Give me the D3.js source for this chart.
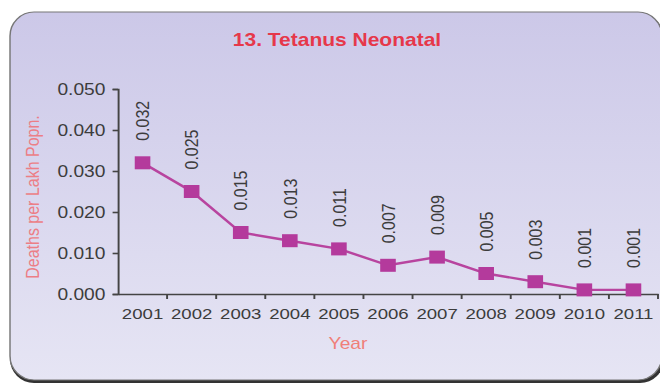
<!DOCTYPE html>
<html><head><meta charset="utf-8">
<script src="https://cdn.jsdelivr.net/npm/d3@7/dist/d3.min.js"></script>
<style>html,body{margin:0;padding:0;background:#fff;}svg{display:block;}</style>
</head><body>
<script>
const years = ["2001","2002","2003","2004","2005","2006","2007","2008","2009","2010","2011"];
const deaths = [0.032,0.025,0.015,0.013,0.011,0.007,0.009,0.005,0.003,0.001,0.001];
const valueLabels = ["0.032","0.025","0.015","0.013","0.011","0.007","0.009","0.005","0.003","0.001","0.001"];
const yTicks = [0,0.01,0.02,0.03,0.04,0.05];
const title = "13. Tetanus Neonatal";
const yTitle = "Deaths per Lakh Popn.";
const xTitle = "Year";

const SX = 1.2; // horizontal stretch of the picture
const W = 660, H = 383;
const svg = d3.select("body").append("svg").attr("width", W).attr("height", H);
const defs = svg.append("defs");
const grad = defs.append("linearGradient").attr("id","bg").attr("x1",0).attr("y1",0).attr("x2",0).attr("y2",1);
grad.append("stop").attr("offset","0%").attr("stop-color","#ccc8e8");
grad.append("stop").attr("offset","100%").attr("stop-color","#e6e5f4");

const g = svg.append("g").attr("transform", `scale(${SX},1)`);
const font = "'Liberation Sans', Arial, sans-serif";

// panel shadow + panel
g.append("rect").attr("x", 10/SX).attr("y", 14).attr("width", 654/SX).attr("height", 369)
  .attr("rx", 24/SX).attr("ry", 24).attr("fill", "#333");
g.append("rect").attr("x", 10/SX).attr("y", 12).attr("width", 652/SX).attr("height", 368)
  .attr("rx", 24/SX).attr("ry", 24).attr("fill", "url(#bg)").attr("stroke", "#777").attr("stroke-width", 1.2);

const x = d3.scaleBand().domain(years).range([118/SX, 658/SX]).padding(0);
const y = d3.scaleLinear().domain([0, 0.05]).range([294, 89]);

// y axis
const yAxis = g.append("g").attr("transform", `translate(${118/SX},0)`)
  .call(d3.axisLeft(y).tickValues(yTicks).tickFormat(d3.format(".3f")).tickSize(4.5).tickPadding(6));
yAxis.selectAll("path,line").attr("stroke", "#444").attr("stroke-width", 1.6);
yAxis.selectAll("text").attr("font-family", font).attr("font-size", 16).attr("fill", "#3c3c3c");

// x axis
const xAxis = g.append("g").attr("transform", `translate(0,294)`)
  .call(d3.axisBottom(x).tickSize(0).tickPadding(14));
xAxis.select("path").attr("stroke", "#444").attr("stroke-width", 1.6);
xAxis.selectAll("text").attr("font-family", font).attr("font-size", 15.5).attr("fill", "#3c3c3c");
xAxis.selectAll(".bt").data(years.slice(1).concat(["end"])).enter().append("line")
  .attr("x1", (d,i) => x(years[i]) + x.bandwidth()).attr("x2", (d,i) => x(years[i]) + x.bandwidth())
  .attr("y1", 0).attr("y2", 5).attr("stroke", "#444").attr("stroke-width", 1.6);

// line
const line = d3.line().x((d,i) => x(years[i]) + x.bandwidth()/2).y(d => y(d));
g.append("path").datum(deaths).attr("d", line).attr("fill", "none")
  .attr("stroke", "#b8449f").attr("stroke-width", 2.4);

// markers
const ms = 13;
g.selectAll(".mk").data(deaths).enter().append("rect")
  .attr("x", (d,i) => x(years[i]) + x.bandwidth()/2 - ms/2)
  .attr("y", d => y(d) - ms/2).attr("width", ms).attr("height", ms)
  .attr("fill", "#b43a9c");

// value labels
g.selectAll(".vl").data(deaths).enter().append("text")
  .attr("transform", (d,i) => `translate(${x(years[i]) + x.bandwidth()/2},${y(d) - 22}) rotate(-90)`)
  .attr("dy", "0.35em").attr("text-anchor", "start")
  .attr("font-family", font).attr("font-size", 16).attr("fill", "#3c3c3c")
  .text((d,i) => valueLabels[i]);

// titles
g.append("text").attr("x", 337/SX).attr("y", 46).attr("text-anchor", "middle")
  .attr("font-family", font).attr("font-weight", "bold").attr("font-size", 17.5).attr("fill", "#e6384a")
  .text(title);
g.append("text").attr("transform", `translate(${32/SX},197) rotate(-90)`)
  .attr("dy", "0.35em").attr("text-anchor", "middle")
  .attr("font-family", font).attr("font-size", 16).attr("fill", "#ec7e86")
  .text(yTitle);
g.append("text").attr("x", 348/SX).attr("y", 349).attr("text-anchor", "middle")
  .attr("font-family", font).attr("font-size", 16).attr("fill", "#f07f78")
  .text(xTitle);
</script>
</body></html>
